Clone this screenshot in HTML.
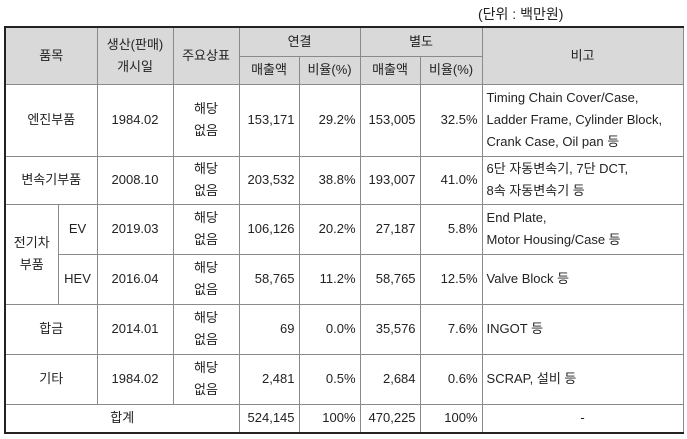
<!DOCTYPE html>
<html><head><meta charset="utf-8"><style>
body{margin:0;width:687px;height:439px;background:#fff;position:relative;overflow:hidden;font-family:"Liberation Sans","Noto Sans CJK KR",sans-serif;font-size:13px;color:#222}
#unit{position:absolute;left:478px;top:4px;font-size:14px}
table{position:absolute;left:4px;top:26px;border-collapse:collapse;table-layout:fixed;width:678px}
td{border:1px solid #8a8a8a;padding:0 4px;text-align:center;line-height:22px;overflow:hidden;white-space:nowrap}
tr.h td{background:#d9d9d9}
td.n{text-align:right}
td.l{text-align:left}
table{border-top:2px solid #222;border-bottom:2px solid #222;border-left:2px solid #222;border-right:1px solid #8a8a8a}
</style></head><body>
<div id="unit">(단위 : 백만원)</div>
<table>
<colgroup><col style="width:53px"><col style="width:39px"><col style="width:76px"><col style="width:66px"><col style="width:60px"><col style="width:61px"><col style="width:60px"><col style="width:62px"><col style="width:201px"></colgroup>
<tr class="h" style="height:29px">
<td colspan="2" rowspan="2">품목</td>
<td rowspan="2">생산(판매)<br>개시일</td>
<td rowspan="2">주요상표</td>
<td colspan="2">연결</td>
<td colspan="2">별도</td>
<td rowspan="2">비고</td></tr>
<tr class="h" style="height:28px">
<td>매출액</td><td>비율(%)</td><td>매출액</td><td>비율(%)</td></tr>
<tr style="height:72px"><td colspan="2">엔진부품</td><td>1984.02</td><td>해당<br>없음</td><td class="n">153,171</td><td class="n">29.2%</td><td class="n">153,005</td><td class="n">32.5%</td><td class="l">Timing Chain Cover/Case,<br>Ladder Frame, Cylinder Block,<br>Crank Case, Oil pan 등</td></tr>
<tr style="height:48px"><td colspan="2">변속기부품</td><td>2008.10</td><td>해당<br>없음</td><td class="n">203,532</td><td class="n">38.8%</td><td class="n">193,007</td><td class="n">41.0%</td><td class="l">6단 자동변속기, 7단 DCT,<br>8속 자동변속기 등</td></tr>
<tr style="height:50px"><td rowspan="2">전기차<br>부품</td><td>EV</td><td>2019.03</td><td>해당<br>없음</td><td class="n">106,126</td><td class="n">20.2%</td><td class="n">27,187</td><td class="n">5.8%</td><td class="l">End Plate,<br>Motor Housing/Case 등</td></tr>
<tr style="height:50px"><td>HEV</td><td>2016.04</td><td>해당<br>없음</td><td class="n">58,765</td><td class="n">11.2%</td><td class="n">58,765</td><td class="n">12.5%</td><td class="l">Valve Block 등</td></tr>
<tr style="height:50px"><td colspan="2">합금</td><td>2014.01</td><td>해당<br>없음</td><td class="n">69</td><td class="n">0.0%</td><td class="n">35,576</td><td class="n">7.6%</td><td class="l">INGOT 등</td></tr>
<tr style="height:50px"><td colspan="2">기타</td><td>1984.02</td><td>해당<br>없음</td><td class="n">2,481</td><td class="n">0.5%</td><td class="n">2,684</td><td class="n">0.6%</td><td class="l">SCRAP, 설비 등</td></tr>
<tr style="height:29px"><td colspan="4">합계</td><td class="n">524,145</td><td class="n">100%</td><td class="n">470,225</td><td class="n">100%</td><td>-</td></tr>
</table>
</body></html>
